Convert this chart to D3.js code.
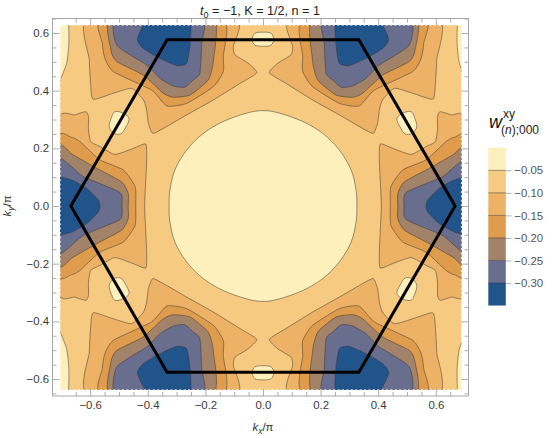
<!DOCTYPE html>
<html>
<head>
<meta charset="utf-8">
<script src="https://d3js.org/d3.v7.min.js"></script>
<style>
    html, body { margin: 0; padding: 0; background: #fff; }
    text { font-family: 'Liberation Sans', Arial, sans-serif; }
</style>
</head>
<body>
<div id="chart"></div>
<script>
'use strict';

// contour levels and their fill colours, lightest first
const legendLevels = [-0.05, -0.10, -0.15, -0.20, -0.25, -0.30];
const legendEnds = [0, -0.35];
const levelColors = ['#fdf0bd', '#f6ca80', '#edb265', '#df9c4c', '#a28269', '#6a6e8e', '#22548c'];

const majorTicks = [-0.6, -0.4, -0.2, 0, 0.2, 0.4, 0.6];
const minorTicks = [-0.65, -0.55, -0.5, -0.45, -0.35, -0.3, -0.25, -0.15, -0.1, -0.05,
    0.05, 0.1, 0.15, 0.25, 0.3, 0.35, 0.45, 0.5, 0.55, 0.65];

// first Brillouin zone
const hexagon = [[-0.667, 0], [-0.333, 0.577], [0.333, 0.577], [0.667, 0], [0.333, -0.577], [-0.333, -0.577]];

const topBlob2 = [[-0.603, 0.66], [-0.603, 0.506], [-0.598, 0.414], [-0.589, 0.37], [-0.52, 0.391], [-0.456, 0.408],
    [-0.415, 0.368], [-0.404, 0.333], [-0.398, 0.287], [-0.383, 0.252], [-0.346, 0.269], [-0.265, 0.316],
    [-0.172, 0.368], [-0.08, 0.425], [-0.022, 0.462], [-0.051, 0.495], [-0.097, 0.524], [-0.103, 0.553], [-0.1, 0.66]];
const topBlob3 = [[-0.557, 0.66], [-0.558, 0.564], [-0.549, 0.512], [-0.52, 0.466], [-0.387, 0.402], [-0.334, 0.347],
    [-0.265, 0.356], [-0.172, 0.414], [-0.138, 0.466], [-0.138, 0.518], [-0.144, 0.66]];
const topBlob4 = [[-0.525, 0.66], [-0.528, 0.541], [-0.508, 0.501], [-0.416, 0.454], [-0.346, 0.391], [-0.311, 0.377],
    [-0.253, 0.385], [-0.19, 0.437], [-0.172, 0.506], [-0.178, 0.66]];
const topBlob5 = [[-0.506, 0.66], [-0.508, 0.558], [-0.404, 0.489], [-0.358, 0.443], [-0.311, 0.416], [-0.271, 0.412],
    [-0.242, 0.437], [-0.219, 0.46], [-0.213, 0.564], [-0.213, 0.66]];
const topBlob6 = [[-0.39, 0.66], [-0.436, 0.581], [-0.416, 0.547], [-0.358, 0.512], [-0.3, 0.487], [-0.265, 0.495],
    [-0.253, 0.564], [-0.257, 0.66]];

const sideBlob2 = [[-0.716, 0.289], [-0.653, 0.316], [-0.615, 0.327], [-0.606, 0.31], [-0.606, 0.264], [-0.598, 0.223],
    [-0.566, 0.206], [-0.514, 0.179], [-0.45, 0.2], [-0.407, 0.215], [-0.404, 0.16], [-0.407, 0.09], [-0.411, 0]];
const sideBlob3 = [[-0.716, 0.231], [-0.664, 0.238], [-0.635, 0.223], [-0.566, 0.16], [-0.485, 0.125], [-0.444, 0.067], [-0.442, 0]];
const sideBlob4 = [[-0.716, 0.203], [-0.659, 0.177], [-0.578, 0.131], [-0.491, 0.084], [-0.468, 0.044], [-0.468, 0]];
const sideBlob5 = [[-0.716, 0.162], [-0.624, 0.102], [-0.497, 0.047], [-0.49, 0]];
const sideBlob6 = [[-0.716, 0.092], [-0.664, 0.09], [-0.612, 0.061], [-0.572, 0.021], [-0.566, 0]];

const centerDisc = [[0, 0.331], [-0.057, 0.322], [-0.138, 0.293], [-0.207, 0.252], [-0.265, 0.194], [-0.306, 0.125], [-0.323, 0.056], [-0.326, 0]];
const sideSpot = [[-0.514, 0.327], [-0.491, 0.324], [-0.465, 0.304], [-0.479, 0.269], [-0.494, 0.25], [-0.517, 0.252], [-0.534, 0.275], [-0.525, 0.31]];
const topSpot = [[0, 0.603], [-0.028, 0.599], [-0.037, 0.578], [-0.028, 0.558], [0, 0.554]];
const cornerStrip = [[-0.72, 0.437], [-0.705, 0.437], [-0.682, 0.495], [-0.674, 0.564], [-0.678, 0.66], [-0.72, 0.66]];

const width = 552;
const height = 438;

var x = d3.scaleLinear().domain([-0.6, 0.6]).range([90.2, 435.8]);
var y = d3.scaleLinear().domain([-0.6, 0.6]).range([379, 33]);
var legendY = d3.scaleLinear().domain([-0.05, -0.3]).range([170.3, 283]);

var frame = {left: 52.5, right: 468.5, top: 18.5, bottom: 396};
var fill = {left: 60, right: 461.7, top: 25, bottom: 390};

var svg = d3.select('#chart').append('svg')
    .attr('width', width)
    .attr('height', height)
    .style('display', 'block');

svg.append('clipPath').attr('id', 'plotClip').append('rect')
    .attr('x', fill.left)
    .attr('y', fill.top)
    .attr('width', fill.right - fill.left)
    .attr('height', fill.bottom - fill.top);

// --- mirror helpers
var flipX = function(pts) { return pts.map(function(p) { return [-p[0], p[1]]; }); };
var flipY = function(pts) { return pts.map(function(p) { return [p[0], -p[1]]; }); };

// last point lies on a mirror line, carry on through the reflected half
var closeOverX = function(pts) { return pts.concat(flipY(pts).reverse().slice(1)); };
var closeOverY = function(pts) { return pts.concat(flipX(pts).reverse().slice(1, -1)); };
var closeOverBoth = function(pts) { return closeOverY(closeOverX(pts)); };
var fourCopies = function(pts) { return [pts, flipX(pts), flipY(pts), flipX(flipY(pts))]; };
var sideCopies = function(pts) { var full = closeOverX(pts); return [full, flipX(full)]; };
var topCopies = function(pts) { var full = closeOverY(pts); return [full, flipY(full)]; };

var contourLine = function(tension) {
    return d3.line()
        .x(function(d) { return x(d[0]); })
        .y(function(d) { return y(d[1]); })
        .curve(d3.curveCardinalClosed.tension(tension));
};

var regions = [
    {level: 0, tension: 0, shapes: [closeOverBoth(centerDisc)]},
    {level: 0, tension: 0, shapes: fourCopies(sideSpot)},
    {level: 0, tension: 0, shapes: topCopies(topSpot)},
    {level: 0, tension: 0.45, shapes: fourCopies(cornerStrip)},
    {level: 2, tension: 0.45, shapes: fourCopies(topBlob2).concat(sideCopies(sideBlob2))},
    {level: 3, tension: 0.45, shapes: fourCopies(topBlob3).concat(sideCopies(sideBlob3))},
    {level: 4, tension: 0.45, shapes: fourCopies(topBlob4).concat(sideCopies(sideBlob4))},
    {level: 5, tension: 0.45, shapes: fourCopies(topBlob5).concat(sideCopies(sideBlob5))},
    {level: 6, tension: 0.45, shapes: fourCopies(topBlob6).concat(sideCopies(sideBlob6))}
];

var plot = svg.append('g').attr('clip-path', 'url(#plotClip)');

plot.append('rect')
    .attr('x', fill.left)
    .attr('y', fill.top)
    .attr('width', fill.right - fill.left)
    .attr('height', fill.bottom - fill.top)
    .attr('fill', levelColors[1]);

regions.forEach(function(region) {
    plot.selectAll(null)
        .data(region.shapes)
        .enter().append('path')
        .attr('d', contourLine(region.tension))
        .attr('fill', levelColors[region.level])
        .attr('stroke', '#333')
        .attr('stroke-opacity', 0.7)
        .attr('stroke-width', 0.7);
});

// ragged edge of the sampled region
svg.append('rect')
    .attr('x', fill.left)
    .attr('y', fill.top)
    .attr('width', fill.right - fill.left)
    .attr('height', fill.bottom - fill.top)
    .attr('fill', 'none')
    .attr('stroke', '#fff')
    .attr('stroke-opacity', 0.75)
    .attr('stroke-width', 1.6)
    .attr('stroke-dasharray', '2 2.4');

// --- hexagon
svg.append('path')
    .datum(hexagon)
    .attr('d', d3.line()
        .x(function(d) { return x(d[0]); })
        .y(function(d) { return y(d[1]); })
        .curve(d3.curveLinearClosed))
    .attr('fill', 'none')
    .attr('stroke', '#000')
    .attr('stroke-width', 3)
    .attr('stroke-linejoin', 'miter');

// --- frame and ticks
var tickFormat = function(d) { return d3.format('.1f')(d).replace('-', '\u2212'); };

var styleAxis = function(g) {
    g.select('.domain').remove();
    g.selectAll('line').attr('stroke', '#a6a6a6').attr('stroke-width', 0.9);
    g.selectAll('text')
        .attr('fill', '#3a3a3a')
        .style('font-size', '11.4px');
};

var drawAxis = function(axis, ticks, size, tx, ty, padding, labels) {
    var g = svg.append('g')
        .attr('transform', 'translate(' + tx + ',' + ty + ')')
        .call(axis
            .tickValues(ticks)
            .tickSize(-size)
            .tickPadding(padding)
            .tickFormat(labels ? tickFormat : ''));
    styleAxis(g);
};

[[majorTicks, 7, true], [minorTicks, 4, false]].forEach(function(t) {
    drawAxis(d3.axisLeft(y), t[0], t[1], frame.left, 0, 3.5, t[2]);
    drawAxis(d3.axisBottom(x), t[0], t[1], 0, frame.bottom, 5, t[2]);
    drawAxis(d3.axisRight(y), t[0], t[1], frame.right, 0, 0, false);
    drawAxis(d3.axisTop(x), t[0], t[1], 0, frame.top, 0, false);
});

svg.append('rect')
    .attr('x', frame.left)
    .attr('y', frame.top)
    .attr('width', frame.right - frame.left)
    .attr('height', frame.bottom - frame.top)
    .attr('fill', 'none')
    .attr('stroke', '#a6a6a6')
    .attr('stroke-width', 1);

// --- titles
var title = svg.append('text')
    .attr('x', 260)
    .attr('y', 15)
    .attr('text-anchor', 'middle')
    .attr('fill', '#222')
    .style('font-size', '12.6px');
title.append('tspan').attr('font-style', 'italic').text('t');
title.append('tspan').attr('dy', 2.5).style('font-size', '9px').text('0');
title.append('tspan').attr('dy', -2.5).text(' = \u22121, K = 1/2, n = 1');

var xLabel = svg.append('text')
    .attr('x', 263)
    .attr('y', 431)
    .attr('text-anchor', 'middle')
    .attr('fill', '#333')
    .style('font-size', '11.4px');
xLabel.append('tspan').attr('font-style', 'italic').text('k');
xLabel.append('tspan').attr('dy', 2.5).attr('font-style', 'italic').style('font-size', '8.5px').text('x');
xLabel.append('tspan').attr('dy', -2.5).text('/\u03c0');

var yLabel = svg.append('text')
    .attr('transform', 'translate(11,206) rotate(-90)')
    .attr('text-anchor', 'middle')
    .attr('fill', '#333')
    .style('font-size', '11.4px');
yLabel.append('tspan').attr('font-style', 'italic').text('k');
yLabel.append('tspan').attr('dy', 2.5).attr('font-style', 'italic').style('font-size', '8.5px').text('y');
yLabel.append('tspan').attr('dy', -2.5).text('/\u03c0');

// --- legend
var legendX = {left: 488.3, right: 505.8};
var legendEdges = [legendEnds[0]].concat(legendLevels, [legendEnds[1]]);
var legendBands = d3.pairs(legendEdges);

var legend = svg.append('g');

legend.selectAll('rect')
    .data(legendBands)
    .enter().append('rect')
    .attr('x', legendX.left)
    .attr('y', function(d) { return legendY(d[0]); })
    .attr('width', legendX.right - legendX.left)
    .attr('height', function(d) { return legendY(d[1]) - legendY(d[0]); })
    .attr('fill', function(d, i) { return levelColors[i]; });

legend.selectAll('line.sep')
    .data(legendLevels)
    .enter().append('line')
    .attr('class', 'sep')
    .attr('x1', legendX.left)
    .attr('x2', legendX.right)
    .attr('y1', function(d) { return legendY(d); })
    .attr('y2', function(d) { return legendY(d); })
    .attr('stroke', '#333')
    .attr('stroke-opacity', 0.7)
    .attr('stroke-width', 0.7);

var legendAxis = svg.append('g')
    .attr('transform', 'translate(' + legendX.right + ',0)')
    .call(d3.axisRight(legendY)
        .tickValues(legendLevels)
        .tickSize(5.5)
        .tickPadding(3)
        .tickFormat(function(d) { return d3.format('.2f')(d).replace('-', '\u2212'); }));
legendAxis.select('.domain').remove();
legendAxis.selectAll('line').attr('stroke', '#a6a6a6').attr('stroke-width', 0.9);
legendAxis.selectAll('text').attr('fill', '#555').style('font-size', '11.4px');

svg.append('text')
    .attr('x', 489)
    .attr('y', 128)
    .attr('font-style', 'italic')
    .attr('fill', '#111')
    .style('font-size', '18px')
    .text('w');
svg.append('text')
    .attr('x', 503)
    .attr('y', 118)
    .attr('fill', '#222')
    .style('font-size', '12px')
    .text('xy');
var legendSub = svg.append('text')
    .attr('x', 501)
    .attr('y', 134)
    .attr('fill', '#222')
    .style('font-size', '12px');
legendSub.append('tspan').text('(');
legendSub.append('tspan').attr('font-style', 'italic').text('n');
legendSub.append('tspan').text(');000');
</script>
</body>
</html>
